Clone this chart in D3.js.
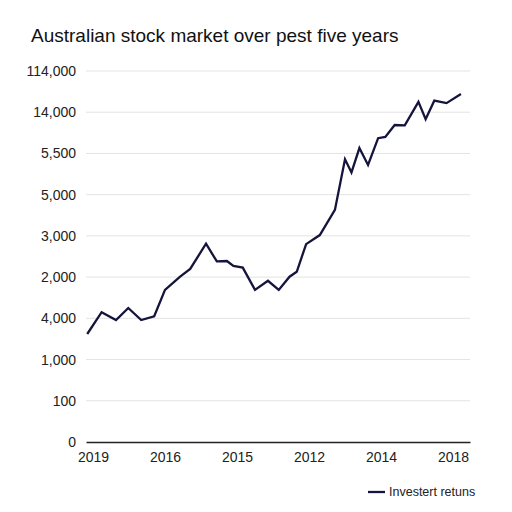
<!DOCTYPE html>
<html>
<head>
<meta charset="utf-8">
<script src="https://cdn.jsdelivr.net/npm/d3@7"></script>
<style>
  body { margin: 0; background: #fff; }
  text { font-family: "Liberation Sans", Arial, sans-serif; }
</style>
</head>
<body>
<svg width="512" height="512"></svg>
<script>
// Tick labels as printed on the chart (bottom to top)
const yTickLabels = ["0", "100", "1,000", "4,000", "2,000", "3,000", "5,000", "5,500", "14,000", "114,000"];
const xTickLabels = ["2019", "2016", "2015", "2012", "2014", "2018"];

// Series: position along the x axis (in label steps) and level (in gridline steps)
const seriesT = [-0.08, 0.12, 0.32, 0.49, 0.67, 0.85, 1.0, 1.21, 1.35, 1.57, 1.72, 1.86, 1.95, 2.08,
  2.25, 2.43, 2.58, 2.73, 2.83, 2.96, 3.15, 3.36, 3.5, 3.59, 3.7, 3.82, 3.96, 4.06, 4.19, 4.33,
  4.52, 4.62, 4.74, 4.91, 5.11];
const seriesV = [2.62, 3.15, 2.96, 3.25, 2.96, 3.05, 3.69, 4.01, 4.2, 4.81, 4.38, 4.39, 4.27, 4.23,
  3.69, 3.91, 3.69, 4.01, 4.13, 4.8, 5.02, 5.63, 6.86, 6.54, 7.13, 6.72, 7.37, 7.4, 7.69, 7.68,
  8.25, 7.83, 8.28, 8.22, 8.44];
const seriesName = "Investert retuns";

const svg = d3.select("svg");

// Scales
const x = d3.scaleLinear().domain([-0.097, 5.236]).range([86, 470]);
const y = d3.scaleLinear().domain([0, 9]).range([442, 71]);

// Title
svg.append("text")
  .attr("x", 31)
  .attr("y", 42)
  .style("font-size", "19px")
  .style("fill", "#111")
  .text("Australian stock market over pest five years");

// Gridlines
svg.append("g")
  .selectAll("line")
  .data(d3.range(1, yTickLabels.length))
  .enter()
  .append("line")
  .attr("x1", 86)
  .attr("x2", 470)
  .attr("y1", d => y(d))
  .attr("y2", d => y(d))
  .attr("stroke", "#e3e3e3")
  .attr("stroke-width", 1);

// Y axis labels
const yAxis = d3.axisLeft(y)
  .tickValues(d3.range(yTickLabels.length))
  .tickFormat(i => yTickLabels[i])
  .tickSize(0)
  .tickPadding(0);

svg.append("g")
  .attr("transform", "translate(76,0)")
  .call(yAxis)
  .call(g => g.select(".domain").remove())
  .selectAll("text")
  .style("font-size", "14px")
  .style("fill", "#222")
  .style("font-family", "'Liberation Sans', Arial, sans-serif");

// X axis
const xAxis = d3.axisBottom(x)
  .tickValues(d3.range(xTickLabels.length))
  .tickFormat(i => xTickLabels[i])
  .tickSize(0)
  .tickPadding(10);

const xg = svg.append("g")
  .attr("transform", "translate(0,442)")
  .call(xAxis);
xg.select(".domain")
  .attr("stroke", "#222")
  .attr("stroke-width", 1.6);
xg.selectAll("text")
  .style("font-size", "14px")
  .style("fill", "#222")
  .style("font-family", "'Liberation Sans', Arial, sans-serif");

// Line
const line = d3.line()
  .x((d, i) => x(seriesT[i]))
  .y(d => y(d));

svg.append("path")
  .datum(seriesV)
  .attr("d", line)
  .attr("fill", "none")
  .attr("stroke", "#14143c")
  .attr("stroke-width", 2.3)
  .attr("stroke-linejoin", "miter");

// Legend
const legend = svg.append("g").attr("transform", "translate(368,492)");
legend.append("line")
  .attr("x1", 0).attr("x2", 17)
  .attr("stroke", "#14143c")
  .attr("stroke-width", 2.3);
legend.append("text")
  .attr("x", 21)
  .attr("y", 4)
  .style("font-size", "12.5px")
  .style("fill", "#222")
  .text(seriesName);
</script>
</body>
</html>
